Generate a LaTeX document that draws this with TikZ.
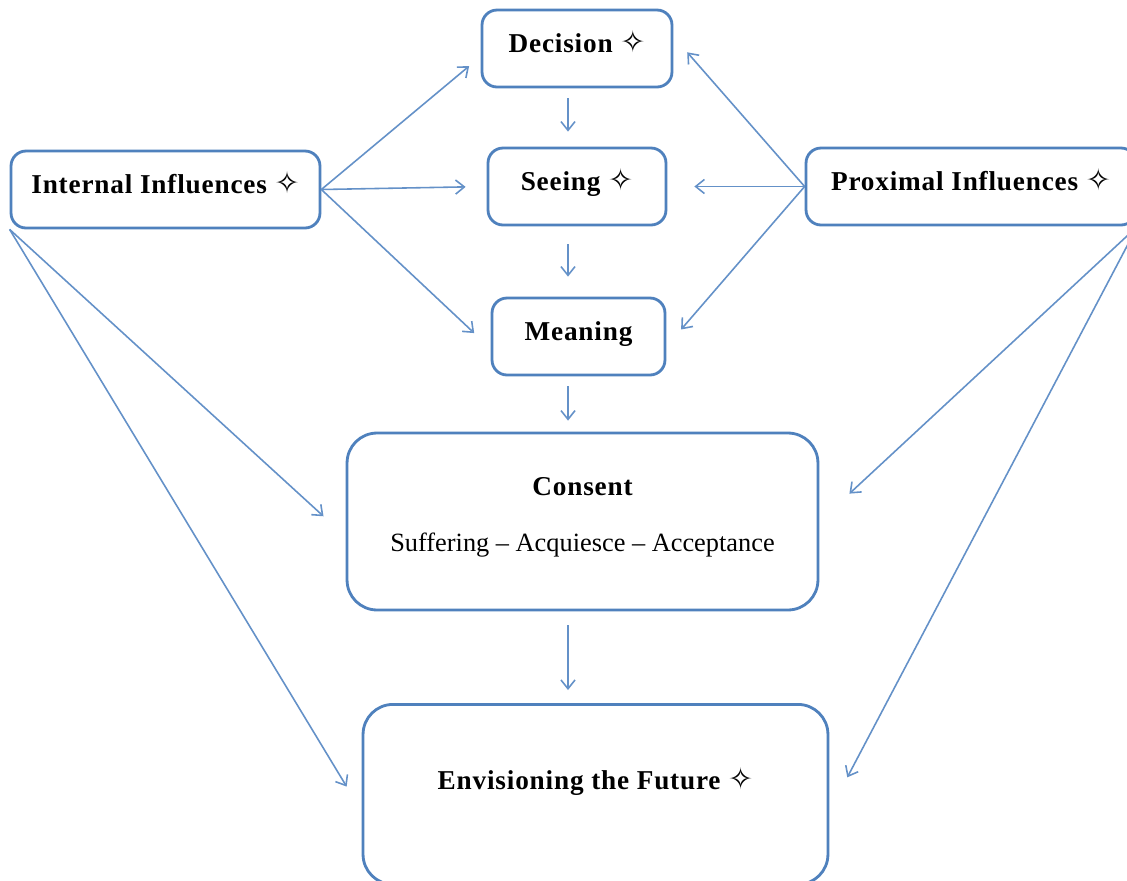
\documentclass[tikz,border=0pt]{standalone}
\usepackage{fontspec}
\setmainfont{Liberation Serif}[LetterSpace=3]
\newfontfamily\symfont{DejaVu Sans}
\usetikzlibrary{calc}
\usetikzlibrary{arrows.meta}
\definecolor{boxblue}{RGB}{79,129,189}
\definecolor{arrowblue}{RGB}{100,145,200}
\newcommand{\spark}{{\symfont\fontsize{17}{18}\selectfont ✧}}

\tikzset{
  box/.style={draw=boxblue, line width=1.6pt, rounded corners=0.3cm, fill=white,
    font=\bfseries\fontsize{15.5}{18}\selectfont, inner sep=0pt, minimum height=1.54cm,
    text height=11pt, text depth=6.5pt},
  bigbox/.style={box, rounded corners=0.6cm},
  arr/.style={draw=arrowblue, line width=0.9pt, -{Straight Barb[length=5pt,width=8pt]}},
}

\begin{document}
\begin{tikzpicture}[x=0.02cm, y=-0.02cm]
    \clip (0,0) rectangle (1127,880);
    \fill[white] (0,0) rectangle (1127,880);
    \coordinate (spine) at (568,0);
    % middle column
    \node[box, minimum width=3.8cm] (dec) at (577,48.5) {Decision \spark};
    \node[box, minimum width=3.56cm] (see) at (577,186.5) {Seeing \spark};
    \node[box, minimum width=3.46cm] (mea) at (578.5,336.5) {Meaning};
    \node[bigbox, minimum width=9.42cm, minimum height=3.54cm, align=center,
      text height=, text depth=] (con) at (582.5,521.5)
      {Consent\\[14pt]{\mdseries\fontsize{15}{18}\selectfont\addfontfeatures{LetterSpace=0}Suffering -- Acquiesce -- Acceptance}\\[-10pt]\mbox{}};
    \node[bigbox, minimum width=9.3cm, anchor=north, text height=1.7cm, text depth=1.9cm] (env) at (595.5,703)
      {Envisioning the Future \spark};
    % side boxes
    \node[box, minimum width=6.18cm] (int) at (165.5,189.5) {Internal Influences \spark};
    \node[box, minimum width=6.6cm] (pro) at (971,186.5) {Proximal Influences \spark};
    % down the middle
    \path (dec.south -| spine) edge[arr, shorten <=0.2cm, shorten >=0.3cm] (see.north -| spine);
    \path (see.south -| spine) edge[arr, shorten <=0.36cm, shorten >=0.4cm] (mea.north -| spine);
    \path (mea.south -| spine) edge[arr, shorten <=0.2cm, shorten >=0.22cm] (con.north -| spine);
    \path (con.south -| spine) edge[arr, shorten <=0.28cm, shorten >=0.26cm] (env.north -| spine);
    % internal influences
    \path (int.east) edge[arr, shorten >=0.3cm] ($(dec.west)+(0,8)$);
    \path (int.east) edge[arr, shorten >=0.42cm] (see.west);
    \path (int.east) edge[arr, shorten >=0.45cm] ($(mea.west)+(0,12)$);
    \path (int.south west) edge[arr, shorten >=0.6cm] ($(con.west)+(0,15)$);
    \path (int.south west) edge[arr, shorten >=0.58cm] ($(env.west)+(0,17)$);
    % proximal influences
    \path (pro.west) edge[arr, shorten >=0.42cm] ($(dec.east)+(0,-12)$);
    \path (pro.west) edge[arr, shorten >=0.54cm] (see.east);
    \path (pro.west) edge[arr, shorten >=0.45cm] ($(mea.east)+(0,10)$);
    \path (pro.south east) edge[arr, shorten >=0.82cm] (con.east);
    \path (pro.south east) edge[arr, shorten >=0.77cm] ($(env.east)+(0,17)$);
\end{tikzpicture}
\end{document}
